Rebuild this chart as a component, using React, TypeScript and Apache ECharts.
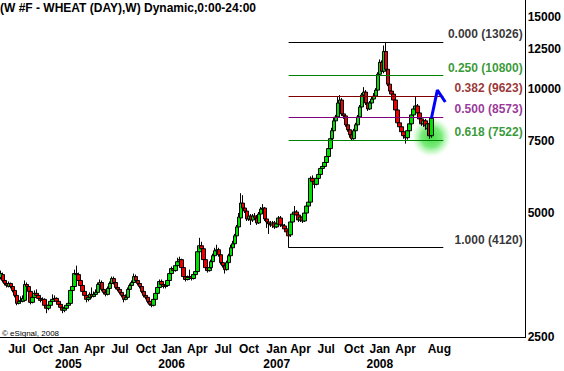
import React, { useEffect, useRef } from "react";
import * as echarts from "echarts";

const TITLE = "(W #F - WHEAT (DAY),W) Dynamic,0:00-24:00";
const COPYRIGHT = "\u00A9 eSignal, 2008";
const FONT = "'Liberation Sans', Arial, sans-serif";

// weekly bars, first week starting Monday 2004-05-03
const WEEK_COUNT = 265;
// [open, close, low, high]
const CANDLES: number[][] = [
  [3487,3565,3449,3625],[3545,3430,3392,3585],[3430,3373,3336,3468],[3373,3336,3299,3411],[3317,3373,3299,3411],
  [3373,3317,3281,3392],[3317,3245,3209,3336],[3245,3156,3121,3263],[3156,3018,2985,3191],[3018,3052,3001,3103],
  [3052,3069,3018,3138],[3052,3103,3035,3156],[3069,3354,3052,3430],[3354,3317,3281,3392],[3317,3227,3191,3336],
  [3227,3035,3001,3245],[3035,3121,3018,3156],[3121,3191,3103,3245],[3191,3156,3121,3263],[3156,3103,3069,3191],
  [3103,3069,3035,3138],[3069,3086,3035,3121],[3086,2985,2952,3103],[2985,2936,2856,3018],[2936,2985,2904,3018],
  [2985,3052,2968,3069],[3052,3086,3035,3173],[3086,3103,3052,3156],[3103,3052,3018,3121],[3052,3001,2968,3086],
  [3001,2952,2920,3035],[2952,2904,2856,2968],[2904,2936,2872,2968],[2936,2985,2920,3018],[2985,3018,2952,3069],
  [3018,3245,3001,3281],[3245,3317,3209,3354],[3317,3565,3299,3645],[3565,3545,3506,3727],[3545,3430,3392,3585],
  [3430,3336,3299,3449],[3336,3227,3191,3373],[3227,3156,3121,3263],[3156,3086,3035,3191],[3086,3121,3052,3156],
  [3121,3173,3103,3209],[3173,3138,3103,3299],[3138,3173,3121,3227],[3173,3209,3138,3263],[3209,3354,3191,3392],
  [3354,3392,3317,3449],[3392,3263,3227,3430],[3263,3209,3173,3299],[3209,3173,3138,3245],[3173,3281,3156,3317],
  [3281,3373,3263,3411],[3373,3468,3354,3506],[3468,3392,3354,3506],[3392,3299,3263,3430],[3299,3263,3227,3336],
  [3263,3209,3173,3299],[3209,3156,3121,3245],[3156,3086,3035,3191],[3086,3121,3069,3173],[3121,3263,3103,3299],
  [3263,3336,3227,3373],[3336,3392,3317,3430],[3392,3506,3373,3565],[3506,3430,3392,3545],[3430,3373,3336,3449],
  [3373,3317,3281,3392],[3317,3227,3191,3336],[3227,3156,3121,3263],[3156,3121,3086,3191],[3121,3052,3018,3138],
  [3052,3001,2985,3086],[3001,2985,2952,3035],[2985,3086,2968,3121],[3086,3191,3069,3227],[3191,3299,3173,3336],
  [3299,3411,3281,3449],[3411,3354,3317,3449],[3354,3317,3281,3392],[3317,3336,3281,3373],[3336,3430,3317,3468],
  [3430,3565,3411,3605],[3565,3666,3545,3707],[3666,3625,3585,3707],[3625,3727,3605,3769],[3727,3811,3707,3897],
  [3811,3854,3769,3919],[3854,3686,3645,3875],[3686,3506,3468,3707],[3506,3449,3411,3545],[3449,3487,3430,3526],
  [3487,3506,3449,3645],[3506,3468,3430,3545],[3468,3545,3449,3585],[3545,3605,3526,3645],[3605,4029,3585,4074],
  [4029,4166,3984,4354],[4166,4097,4051,4259],[4097,3854,3811,4119],[3854,3686,3645,3875],[3686,3625,3585,3727],
  [3625,3686,3605,3727],[3686,3811,3666,3854],[3811,3940,3790,3984],[3940,4051,3919,4119],[4051,4074,4007,4189],
  [4074,3962,3919,4119],[3962,3790,3748,4007],[3790,3727,3686,3832],[3727,3645,3565,3769],[3645,3790,3625,3832],
  [3790,3940,3769,3984],[3940,4119,3919,4189],[4119,4212,4097,4283],[4212,4403,4189,4452],[4403,4629,4378,4681],
  [4629,4893,4603,5003],[4866,5289,4812,5590],[5289,5144,5087,5528],[5144,5059,5003,5231],[5059,4839,4786,5115],
  [4839,4920,4786,5003],[4920,4812,4681,4975],[4812,4920,4759,4975],[4920,4866,4812,5003],[4866,4733,4681,4948],
  [4733,4975,4707,5031],[4975,5115,4920,5173],[5115,5144,5059,5260],[5144,4839,4786,5173],[4839,4759,4603,4893],
  [4759,4707,4452,4839],[4707,4681,4629,4786],[4681,4733,4603,4786],[4733,4629,4578,4786],[4629,4707,4603,4759],
  [4707,4866,4655,4920],[4866,4681,4629,4920],[4681,4655,4603,4759],[4655,4578,4527,4707],[4578,4502,4452,4629],
  [4527,4403,4120,4578],[4427,4759,4378,4812],[4759,4975,4707,5031],[4975,5031,4920,5202],[5031,4948,4893,5087],
  [4948,4812,4759,5003],[4812,4893,4759,4948],[4893,4786,4733,4948],[4786,5003,4759,5059],[5003,5202,4948,5260],
  [5202,5318,5173,5378],[5318,6074,5289,6142],[6074,5974,5875,6176],[5974,5875,5746,6074],[5875,6074,5843,6142],
  [6074,6210,6007,6280],[6210,6421,6176,6493],[6421,6493,6350,6602],[6493,6639,6457,6713],[6639,6863,6602,6940],
  [6863,7175,6825,7255],[7175,7584,7135,7669],[7584,7929,7542,8061],[7929,8380,7885,8568],[8380,8568,8288,8663],
  [8568,9260,8520,9574],[9260,9415,9107,9680],[9415,8712,8615,9521],[8712,8615,8473,8858],[8615,8196,8106,8712],
  [8196,7973,7885,8288],[7973,7754,7626,8061],[7754,7584,7501,7841],[7584,7929,7542,8016],[7929,8196,7885,8288],
  [8196,8568,8151,8663],[8568,9057,8520,9158],[9057,9680,9007,9788],[9680,9843,9574,10120],[9843,9260,9158,9953],
  [9260,8957,8858,9363],[8957,9260,8907,9363],[9260,9468,9158,9574],[9468,9627,9415,9788],[9627,9953,9574,10064],
  [9953,10877,9898,10998],[10877,11626,10757,11821],[11626,11059,10937,11756],[11059,12358,10937,12776],[12358,11183,11059,13026],
  [11183,10290,10176,11434],[10290,9898,9788,10463],[9898,9734,9627,10008],[9734,9415,9311,9843],[9415,8907,8809,9521],
  [8907,8288,8196,9007],[8288,8106,8016,8427],[8106,7885,7797,8196],[7885,7711,7584,7973],[7711,7626,7377,7841],
  [7626,7929,7542,8016],[7929,8242,7885,8334],[8242,8663,8196,8760],[8663,8957,8568,9057],[8957,9107,8858,9574],
  [9107,8760,8663,9209],[8760,8473,8380,8858],[8473,8242,8151,8568],[8242,8380,8106,8473],[8380,8151,7973,8473],
  [8016,8242,7929,8334],[8242,7711,7584,8334],[7711,8502,7626,8615],
];
const LAST_PRICE = 8502;

const Y_MIN = 2500;
const Y_MAX = 16480;
const Y_TICKS = [2500, 5000, 7500, 10000, 12500, 15000];

const X_TICK_DATES = [
  "2004-06-28","2004-09-27","2004-12-27","2005-03-28","2005-06-27","2005-09-26",
  "2005-12-26","2006-03-27","2006-06-26","2006-09-25","2007-01-01","2007-03-26",
  "2007-06-25","2007-10-01","2007-12-31","2008-03-31","2008-07-28",
];
const X_TICK_LABELS = [
  "Jul","Oct","Jan\n2005","Apr","Jul","Oct",
  "Jan\n2006","Apr","Jul","Oct","Jan\n2007","Apr",
  "Jul","Oct","Jan\n2008","Apr","Aug",
];

const FIB_RATIOS = ["0.000", "0.250", "0.382", "0.500", "0.618", "1.000"];
const FIB_PRICES = [13026, 10800, 9623, 8573, 7522, 4120];
const FIB_FROM_WEEK = 145;
const FIB_TO_WEEK = 223;
const FIB_LABEL_WEEK = 263;

const ARROW_WEEKS = [217, 220, 224];
const ARROW_PRICES = [8502, 9953, 9311];
const GLOW_WEEK = 217;
const GLOW_PRICE = 7650;

// styles
const FIB_COLORS = ["#000000", "#008000", "#800000", "#800080", "#008000", "#000000"];

const L = (v: number) => Math.log10(v);

function buildDates(): string[] {
  const out: string[] = [];
  const t0 = Date.UTC(2004, 4, 3);
  for (let i = 0; i < WEEK_COUNT; i++) {
    out.push(new Date(t0 + i * 7 * 86400000).toISOString().slice(0, 10));
  }
  return out;
}

function buildOption() {
  const dates = buildDates();
  const tickMap = new Map<string, string>();
  X_TICK_DATES.forEach((d, i) => tickMap.set(d, X_TICK_LABELS[i]));
  const bold12 = { fontFamily: FONT, fontSize: 12, fontWeight: "bold" as const };

  return {
    animation: false,
    backgroundColor: "#ffffff",
    title: {
      text: TITLE,
      left: 0,
      top: 2,
      padding: 0,
      textStyle: { ...bold12, color: "#000" },
    },
    grid: { left: 0, right: 35, top: 0, bottom: 31, containLabel: false },
    xAxis: {
      type: "category",
      data: dates,
      boundaryGap: true,
      axisLine: { show: true, lineStyle: { color: "#000", width: 1 } },
      axisTick: { show: false },
      splitLine: { show: false },
      axisLabel: {
        ...bold12,
        color: "#000",
        margin: 4,
        lineHeight: 15,
        interval: (_i: number, v: string) => tickMap.has(v),
        formatter: (v: string) => tickMap.get(v) ?? "",
        hideOverlap: false,
      },
    },
    yAxis: {
      type: "value",
      position: "right",
      min: L(Y_MIN),
      max: L(Y_MAX),
      axisLine: { show: true, lineStyle: { color: "#000", width: 1 } },
      axisTick: { show: false },
      splitLine: { show: false },
      axisLabel: {
        ...bold12,
        color: "#000",
        margin: 2,
        customValues: Y_TICKS.map(L),
        formatter: (v: number) => String(Math.round(Math.pow(10, v))),
      },
    },
    graphic: [
      {
        type: "text",
        left: 2,
        top: 329,
        style: { text: COPYRIGHT, font: `8px ${FONT}`, fill: "#000" },
      },
    ],
    series: [
      {
        type: "scatter",
        name: "glow",
        silent: true,
        z: 1,
        symbolSize: 40,
        data: [[dates[GLOW_WEEK], L(GLOW_PRICE)]],
        itemStyle: {
          color: new echarts.graphic.RadialGradient(0.5, 0.5, 0.5, [
            { offset: 0, color: "rgba(20,215,20,1)" },
            { offset: 0.5, color: "rgba(60,225,60,0.85)" },
            { offset: 0.8, color: "rgba(130,240,130,0.4)" },
            { offset: 1, color: "rgba(190,255,190,0)" },
          ]),
        },
      },
      {
        type: "candlestick",
        name: "WHEAT",
        z: 2,
        barWidth: 4,
        data: CANDLES.map((r) => r.map(L)),
        itemStyle: {
          color: "#00e000",
          color0: "#ee0000",
          borderColor: "#000",
          borderColor0: "#000",
          borderWidth: 1,
        },
        markLine: {
          silent: true,
          animation: false,
          symbol: ["none", "none"],
          data: [
            ...FIB_PRICES.map((p, k) => [
              {
                coord: [dates[FIB_FROM_WEEK], L(p)],
                lineStyle: { color: FIB_COLORS[k], width: 1, type: "solid" },
                label: { show: false },
              },
              { coord: [dates[FIB_TO_WEEK], L(p)] },
            ]),
            {
              yAxis: L(LAST_PRICE),
              lineStyle: { opacity: 0 },
              label: {
                show: true,
                position: "end",
                distance: 1,
                formatter: String(LAST_PRICE),
                backgroundColor: "#00ff00",
                color: "#ffffff",
                ...bold12,
                padding: [2, 1, 1, 1],
              },
            },
          ],
        },
      },
      {
        type: "scatter",
        name: "fibLabels",
        silent: true,
        z: 4,
        symbolSize: 0,
        data: FIB_PRICES.map((p, k) => ({
          value: [dates[FIB_LABEL_WEEK], L(p)],
          label: {
            show: true,
            position: "left",
            distance: 0,
            offset: [0, -8],
            formatter: `${FIB_RATIOS[k]} (${p})`,
            color: FIB_COLORS[k],
            ...bold12,
          },
        })),
      },
      {
        type: "line",
        name: "arrow",
        silent: true,
        z: 5,
        symbol: "none",
        data: ARROW_WEEKS.map((w, k) => [dates[w], L(ARROW_PRICES[k])]),
        lineStyle: { color: "#0000ff", width: 3 },
      },
    ],
  };
}

export default function App() {
  const ref = useRef<HTMLDivElement>(null);
  useEffect(() => {
    document.body.style.margin = "0";
    const chart = echarts.init(ref.current!, null, { renderer: "svg" });
    chart.setOption(buildOption() as any);
    return () => chart.dispose();
  }, []);
  return <div ref={ref} style={{ width: 564, height: 371 }} />;
}
